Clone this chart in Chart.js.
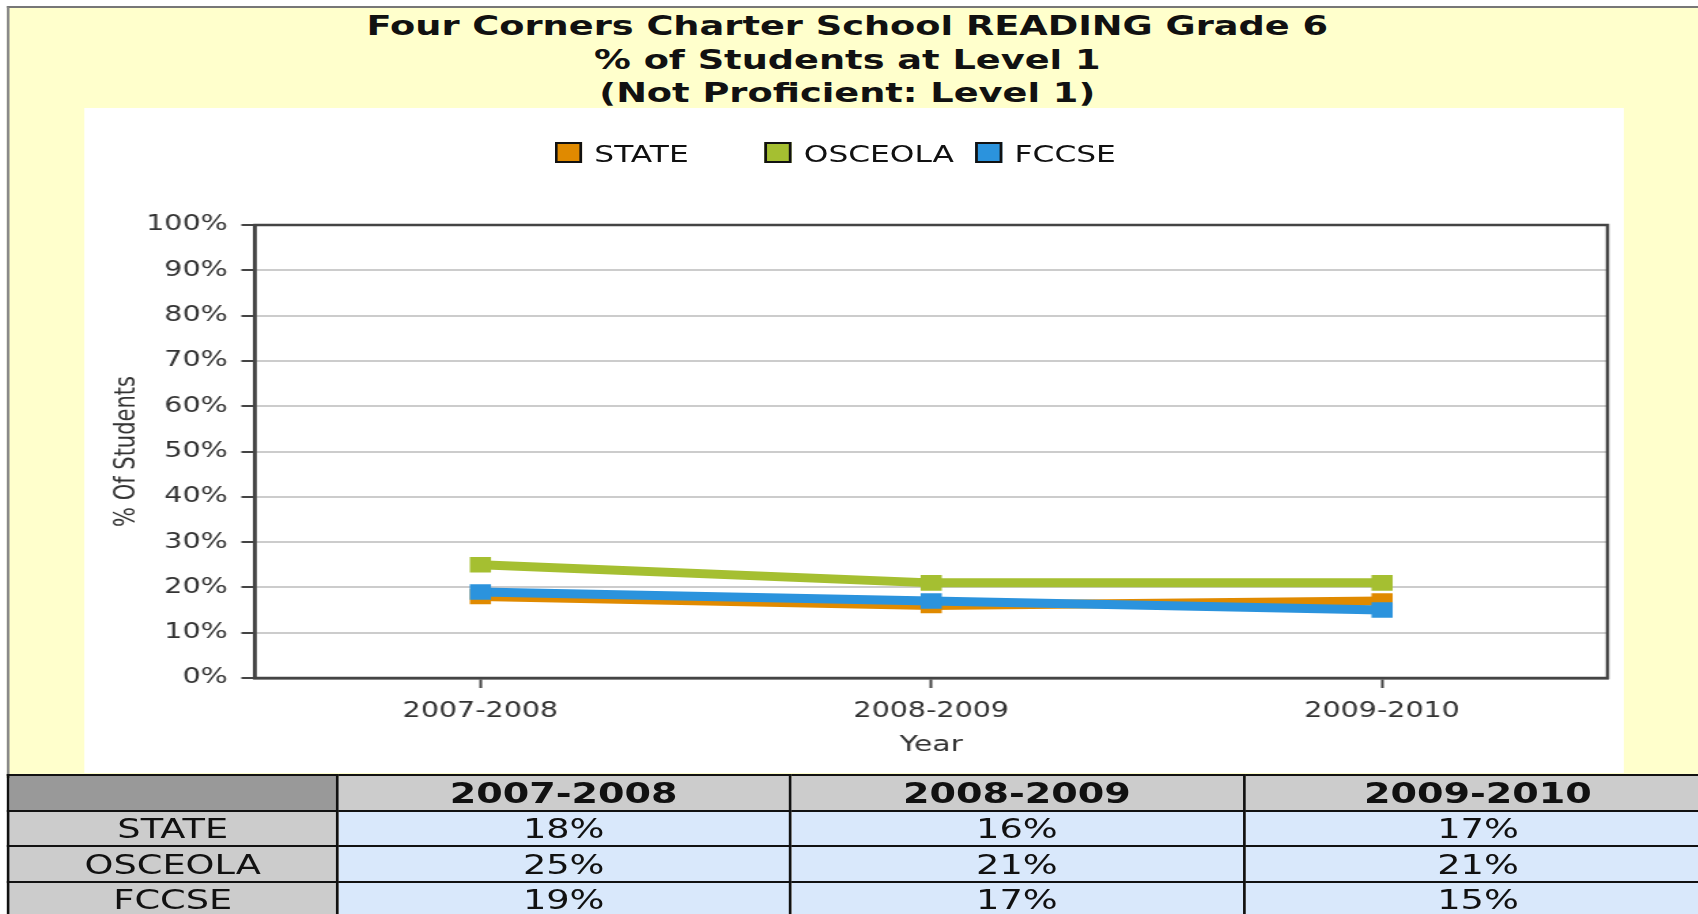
<!DOCTYPE html>
<html>
<head>
<meta charset="utf-8">
<script src="https://cdn.jsdelivr.net/npm/chart.js@4.4.1/dist/chart.umd.min.js"></script>
<style>
  body { margin: 0; width: 1698px; height: 914px; overflow: hidden; background: #fff; font-family: 'DejaVu Sans', Verdana, sans-serif; }
  /* original picture is stretched sideways, so the whole page is laid out narrow and scaled */
  #page { position: absolute; left: 0; top: 0; width: 1249px; height: 914px; transform: scaleX(1.36); transform-origin: 0 0; }
  #panel { position: absolute; left: 5px; top: 6px; width: 1300px; height: 770px; background: #ffffcc; border-left: 2px solid #8a8a8a; border-top: 2px solid #777; }
  #title { position: absolute; left: 0; top: 9px; width: 1246px; text-align: center; font-weight: bold; font-size: 27px; line-height: 33.5px; color: #111; }
  #chart { position: absolute; left: 62px; top: 108px; background: #fff; }
  .lg-box { position: absolute; top: 142px; width: 16px; height: 17px; border: 2px solid #111; }
  .lg-text { position: absolute; top: 140px; font-size: 23px; line-height: 28px; color: #111; }
  #table { position: absolute; left: 5px; top: 774px; width: 1253px; border-collapse: collapse; table-layout: fixed; }
  #table td { border: 2px solid #111; padding: 0; text-align: center; font-size: 27px; color: #111; overflow: hidden; white-space: nowrap; }
  #table td.hd { background: #cccccc; font-weight: bold; font-size: 28px; }
  #table td.corner { background: #999999; }
  #table td.lab { background: #cccccc; }
  #table td.val { background: #d9e8fb; }
</style>
</head>
<body>
<div id="page">
  <div id="panel"></div>
  <div id="title">Four Corners Charter School READING Grade 6<br>% of Students at Level 1<br>(Not Proficient: Level 1)</div>
  <canvas id="chart" width="1132" height="665"></canvas>
  <div id="legend"></div>
  <table id="table"></table>
</div>
<script>
const years = ['2007-2008', '2008-2009', '2009-2010']
const seriesNames = ['STATE', 'OSCEOLA', 'FCCSE']
const stateVals = [18, 16, 17]
const osceolaVals = [25, 21, 21]
const fccseVals = [19, 17, 15]
const seriesColors = ['#e08a00', '#a5bf31', '#2b93dd']
const legendX = [408, 562, 717]

const allVals = [stateVals, osceolaVals, fccseVals]

// ===== legend ===== //
let legendHtml = ''
seriesNames.forEach((name, i) => {
    legendHtml += `<div class="lg-box" style="left:${legendX[i]}px;background:${seriesColors[i]}"></div>
                   <div class="lg-text" style="left:${legendX[i] + 29}px">${name}</div>`
})
document.getElementById('legend').innerHTML = legendHtml

// ===== data table ===== //
const colW = [242, 333, 333.5, 344.5]
const rowH = [36, 35, 36, 35]
let rows = `<colgroup>${colW.map(w => `<col style="width:${w}px">`).join('')}</colgroup>`
rows += `<tr style="height:${rowH[0]}px"><td class="corner"></td>${years.map(y => `<td class="hd">${y}</td>`).join('')}</tr>`
seriesNames.forEach((name, i) => {
    rows += `<tr style="height:${rowH[i + 1]}px"><td class="lab">${name}</td>${allVals[i].map(v => `<td class="val">${v}%</td>`).join('')}</tr>`
})
document.getElementById('table').innerHTML = rows

// ===== chart ===== //
const plotBorder = {
    id: 'plotBorder',
    beforeDatasetsDraw(chart) {
        const {ctx, chartArea: a} = chart
        ctx.save()
        ctx.strokeStyle = '#444'
        ctx.lineWidth = 2.5
        ctx.strokeRect(a.left, a.top, a.right - a.left, a.bottom - a.top)
        ctx.restore()
    }
}

let datasets = seriesNames.map((name, i) => ({
    label: name,
    data: allVals[i],
    borderColor: seriesColors[i],
    backgroundColor: seriesColors[i],
    pointBackgroundColor: seriesColors[i],
    borderWidth: 9,
    pointStyle: 'rect',
    pointRadius: 11,
    pointBorderWidth: 0,
    pointHoverRadius: 11,
    tension: 0,
    order: seriesNames.length - i
}))

new Chart(document.getElementById('chart'), {
    type: 'line',
    data: { labels: years, datasets: datasets },
    options: {
        responsive: false,
        animation: false,
        devicePixelRatio: 1,
        layout: { padding: { top: 117, right: 12, left: 0, bottom: 0 } },
        plugins: { legend: { display: false }, tooltip: { enabled: false } },
        scales: {
            x: {
                offset: true,
                grid: { drawOnChartArea: false, offset: false, tickLength: 10, tickColor: '#444', tickWidth: 2 },
                border: { color: '#444', width: 2.5 },
                ticks: { color: '#333', font: { family: 'DejaVu Sans', size: 21 }, padding: 11, maxRotation: 0 },
                title: { display: true, text: 'Year', color: '#333', font: { family: 'DejaVu Sans', size: 22 }, padding: { top: 0, bottom: 15 } },
                afterFit(scale) { scale.height = 95 }
            },
            y: {
                min: 0,
                max: 100,
                grid: { color: '#cccccc', lineWidth: 2, tickLength: 10, tickColor: '#444', tickWidth: 2 },
                border: { color: '#444', width: 2.5 },
                ticks: { stepSize: 10, color: '#333', font: { family: 'DejaVu Sans', size: 21 }, padding: 10, callback: v => v + '%' },
                title: { display: true, text: '% Of Students', color: '#333', font: { family: 'DejaVu Sans', size: 21 }, padding: { top: 19, bottom: 0 } },
                afterFit(scale) { scale.width = 125.5 }
            }
        }
    },
    plugins: [plotBorder]
})
</script>
</body>
</html>
